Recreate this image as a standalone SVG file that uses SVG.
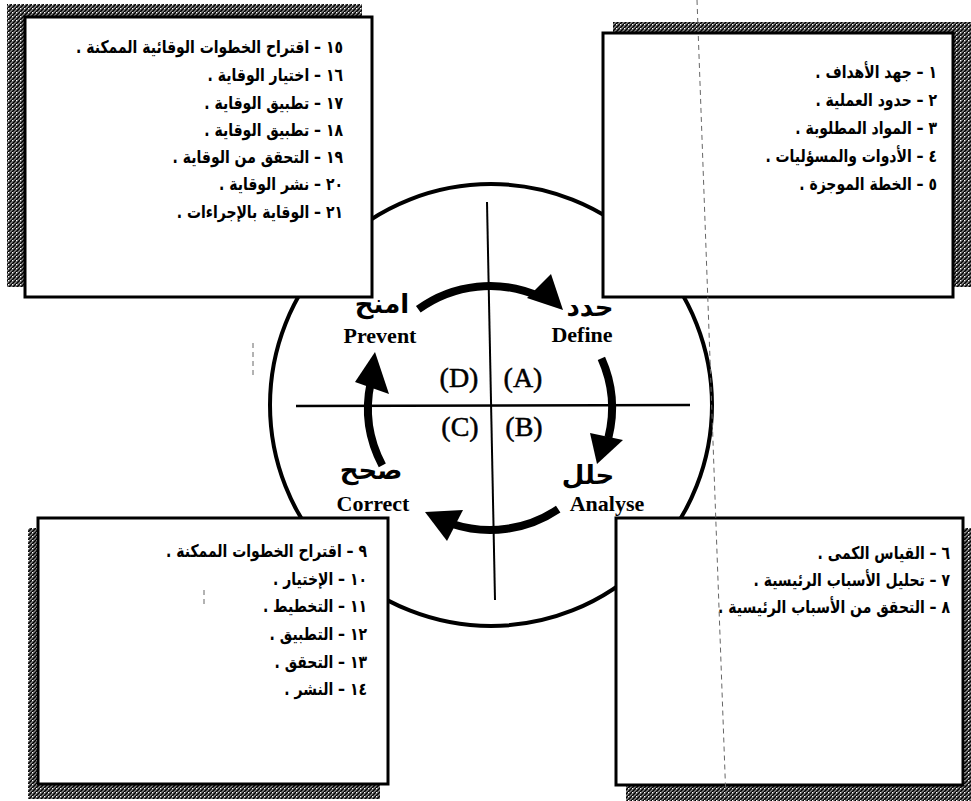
<svg xmlns="http://www.w3.org/2000/svg" width="971" height="801" viewBox="0 0 971 801">
  <defs>
    <pattern id="hatch" width="4" height="4" patternUnits="userSpaceOnUse">
      <rect width="4" height="4" fill="#8a8a8a"/>
      <path d="M0,4 L4,0 M-1,1 L1,-1 M3,5 L5,3" stroke="#000" stroke-width="1.5"/>
      <rect x="0" y="0" width="1" height="1" fill="#fff"/>
    </pattern>
    <style>
      .shadow { fill: url(#hatch); }
      .box { fill: #fff; stroke: #000; stroke-width: 3; }
      .item { font-family: "DejaVu Sans", sans-serif; font-size: 17.5px; font-weight: bold; fill: #000; }
      .ar { font-family: "DejaVu Sans", sans-serif; font-size: 26px; font-weight: bold; fill: #000; }
      .en { font-family: "Liberation Serif", serif; font-size: 22px; font-weight: bold; fill: #000; }
      .quad { font-family: "Liberation Serif", serif; font-size: 28px; fill: #000; stroke: #000; stroke-width: 0.5; }
      .shaft { fill: none; stroke: #000; stroke-width: 8; }
      .head { fill: #000; }
    </style>
  </defs>

  <rect width="971" height="801" fill="#fff"/>

  <!-- outer ring and quadrant axes -->
  <g id="cycle">
    <circle cx="491" cy="405" r="221" fill="none" stroke="#000" stroke-width="4"/>
    <line x1="487" y1="202" x2="495" y2="600" stroke="#000" stroke-width="2"/>
    <line x1="296" y1="406" x2="690" y2="405" stroke="#000" stroke-width="2.5"/>
  </g>

  <!-- shadows behind the four boxes -->
  <rect class="shadow" x="7" y="4" width="355" height="283"/>
  <rect class="shadow" x="613" y="22" width="358" height="265"/>
  <rect class="shadow" x="28" y="528" width="352" height="271"/>
  <rect class="shadow" x="626" y="528" width="345" height="273"/>

  <!-- Prevent steps -->
  <g id="box-prevent">
    <rect class="box" x="25" y="17" width="347" height="280"/>
    <g class="item" direction="rtl" text-anchor="start" transform="translate(343,0) scale(0.8,1)">
      <text x="0" y="53">١٥ – اقتراح الخطوات الوقائية الممكنة .</text>
      <text x="0" y="81">١٦ – اختيار الوقاية .</text>
      <text x="0" y="109">١٧ – تطبيق الوقاية .</text>
      <text x="0" y="136">١٨ – تطبيق الوقاية .</text>
      <text x="0" y="163">١٩ – التحقق من الوقاية .</text>
      <text x="0" y="190">٢٠ – نشر الوقاية .</text>
      <text x="0" y="218">٢١ – الوقاية بالإجراءات .</text>
    </g>
  </g>

  <!-- Define steps -->
  <g id="box-define">
    <rect class="box" x="603" y="33" width="350" height="264"/>
    <g class="item" direction="rtl" text-anchor="start" transform="translate(937,0) scale(0.8,1)">
      <text x="0" y="78">١ – جهد الأهداف .</text>
      <text x="0" y="106">٢ – حدود العملية .</text>
      <text x="0" y="134">٣ – المواد المطلوبة .</text>
      <text x="0" y="162">٤ – الأدوات والمسؤليات .</text>
      <text x="0" y="190">٥ – الخطة الموجزة .</text>
    </g>
  </g>

  <!-- Correct steps -->
  <g id="box-correct">
    <rect class="box" x="38" y="518" width="350" height="266"/>
    <g class="item" direction="rtl" text-anchor="start" transform="translate(367,0) scale(0.8,1)">
      <text x="0" y="557">٩ – اقتراح الخطوات الممكنة .</text>
      <text x="0" y="585">١٠ – الإختيار .</text>
      <text x="0" y="612">١١ – التخطيط .</text>
      <text x="0" y="640">١٢ – التطبيق .</text>
      <text x="0" y="668">١٣ – التحقق .</text>
      <text x="0" y="695">١٤ – النشر .</text>
    </g>
  </g>

  <!-- Analyse steps -->
  <g id="box-analyse">
    <rect class="box" x="616" y="518" width="347" height="267"/>
    <g class="item" direction="rtl" text-anchor="start" transform="translate(950,0) scale(0.8,1)">
      <text x="0" y="559">٦ – القياس الكمى .</text>
      <text x="0" y="586">٧ – تحليل الأسباب الرئيسية .</text>
      <text x="0" y="613">٨ – التحقق من الأسباب الرئيسية .</text>
    </g>
  </g>

  <!-- cycle arrows -->
  <g id="connectors">
    <path class="shaft" d="M418.3,309.3 A122,122 0 0 1 539.6,296.6"/>
    <polygon class="head" points="551,274 563,310 527,298"/>
    <path class="shaft" d="M601.4,358.4 A122,122 0 0 1 608.4,437.5"/>
    <polygon class="head" points="623,440 597,464 590,433"/>
    <path class="shaft" d="M558.2,509.1 A122,122 0 0 1 452.3,524.0"/>
    <polygon class="head" points="463,510 425,512 447,541"/>
    <path class="shaft" d="M382.3,465.3 A122,122 0 0 1 370.7,382.6"/>
    <polygon class="head" points="355,382 375,352 389,394"/>
  </g>

  <!-- phase labels -->
  <g id="phase-prevent">
    <text class="ar" x="382" y="313" text-anchor="middle">امنح</text>
    <text class="en" x="380" y="343" text-anchor="middle">Prevent</text>
  </g>
  <g id="phase-define">
    <text class="ar" x="590" y="316" text-anchor="middle">حدد</text>
    <text class="en" x="582" y="342" text-anchor="middle">Define</text>
  </g>
  <g id="phase-analyse">
    <text class="ar" x="588" y="484" text-anchor="middle">حلل</text>
    <text class="en" x="607" y="511" text-anchor="middle">Analyse</text>
  </g>
  <g id="phase-correct">
    <text class="ar" x="371" y="479" text-anchor="middle">صحح</text>
    <text class="en" x="373" y="511" text-anchor="middle">Correct</text>
  </g>

  <!-- quadrant letters -->
  <g id="quadrants" class="quad" text-anchor="middle">
    <text x="459" y="387">(D)</text>
    <text x="523" y="387">(A)</text>
    <text x="460" y="436">(C)</text>
    <text x="524" y="436">(B)</text>
  </g>

  <!-- fold line across the sheet -->
  <g id="fold" stroke="#666" stroke-width="1" stroke-dasharray="5 4" fill="none">
    <line x1="697" y1="0" x2="726" y2="801"/>
    <line x1="253" y1="343" x2="253" y2="378"/>
    <line x1="204" y1="590" x2="204" y2="606"/>
  </g>
</svg>
